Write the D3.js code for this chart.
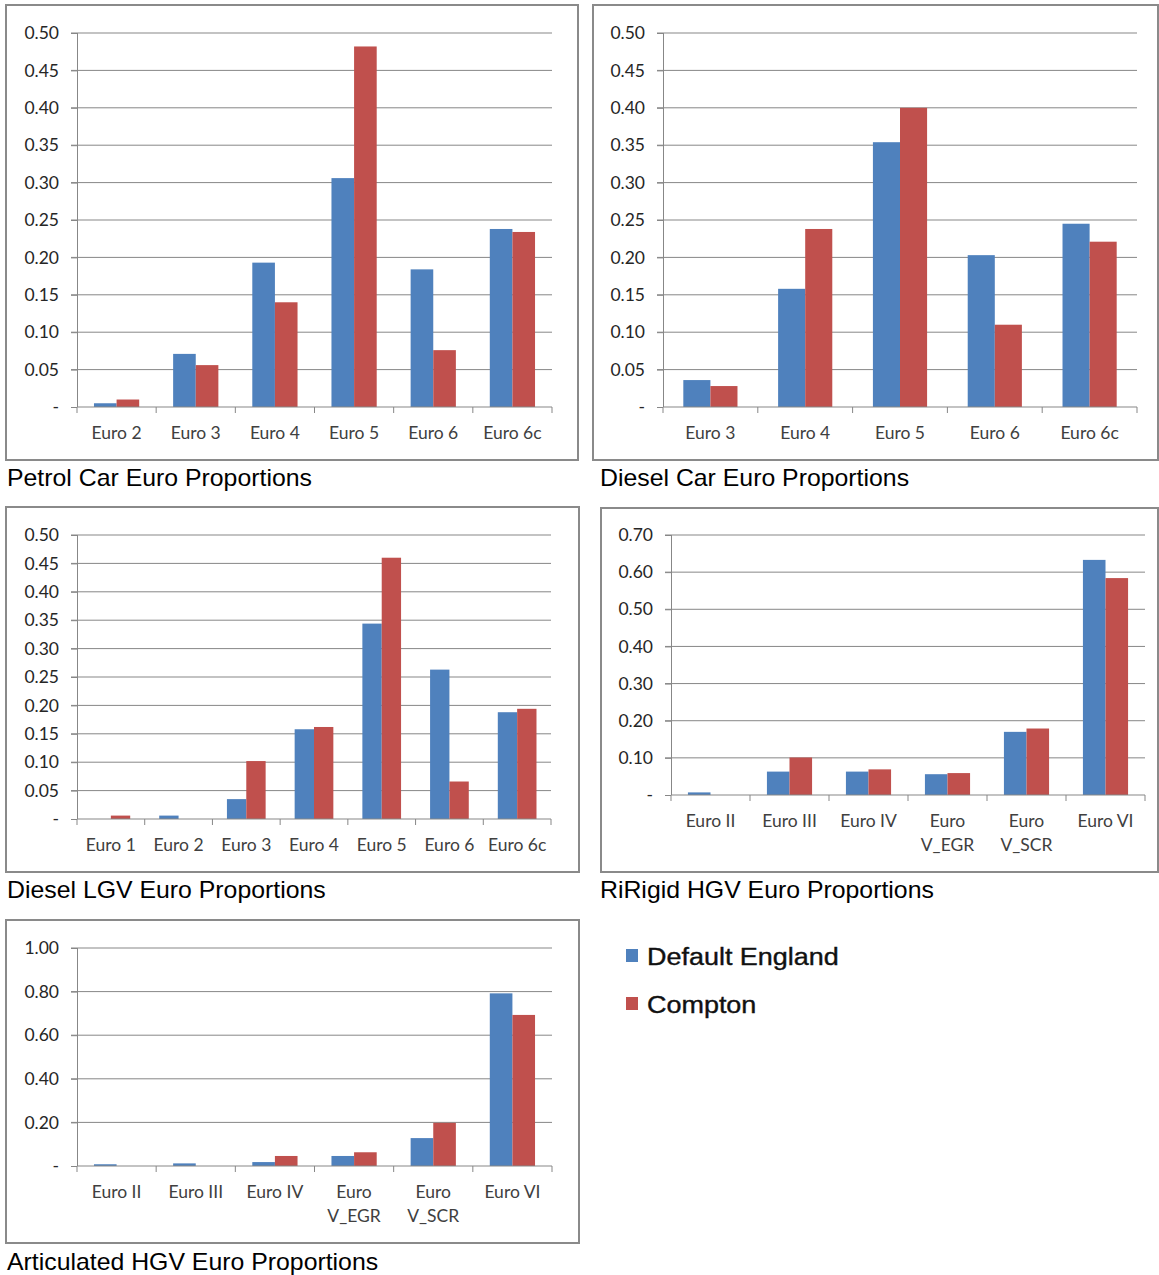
<!DOCTYPE html>
<html>
<head>
<meta charset="utf-8">
<script src="https://cdn.jsdelivr.net/npm/d3@7"></script>
<style>
  body { margin: 0; background: #fff; }
  svg { display: block; }
</style>
</head>
<body>
<div id="chart"></div>
<script>
// series names
var seriesNames = ["Default England", "Compton"];
var seriesColors = ["#4F81BD", "#C0504D"];

// Petrol car
var petrolCats = ["Euro 2", "Euro 3", "Euro 4", "Euro 5", "Euro 6", "Euro 6c"];
var petrolDefault = [0.005, 0.071, 0.193, 0.306, 0.184, 0.238];
var petrolCompton = [0.010, 0.056, 0.140, 0.482, 0.076, 0.234];
var petrolTicks = [0, 0.05, 0.10, 0.15, 0.20, 0.25, 0.30, 0.35, 0.40, 0.45, 0.50];

// Diesel car
var dieselCats = ["Euro 3", "Euro 4", "Euro 5", "Euro 6", "Euro 6c"];
var dieselDefault = [0.036, 0.158, 0.354, 0.203, 0.245];
var dieselCompton = [0.028, 0.238, 0.400, 0.110, 0.221];
var dieselTicks = [0, 0.05, 0.10, 0.15, 0.20, 0.25, 0.30, 0.35, 0.40, 0.45, 0.50];

// Diesel LGV
var lgvCats = ["Euro 1", "Euro 2", "Euro 3", "Euro 4", "Euro 5", "Euro 6", "Euro 6c"];
var lgvDefault = [0, 0.006, 0.035, 0.158, 0.344, 0.263, 0.188];
var lgvCompton = [0.006, 0, 0.102, 0.162, 0.460, 0.066, 0.194];
var lgvTicks = [0, 0.05, 0.10, 0.15, 0.20, 0.25, 0.30, 0.35, 0.40, 0.45, 0.50];

// Rigid HGV
var rigidCats = ["Euro II", "Euro III", "Euro IV", "Euro\nV_EGR", "Euro\nV_SCR", "Euro VI"];
var rigidDefault = [0.007, 0.063, 0.063, 0.056, 0.170, 0.633];
var rigidCompton = [0, 0.101, 0.069, 0.059, 0.179, 0.584];
var rigidTicks = [0, 0.10, 0.20, 0.30, 0.40, 0.50, 0.60, 0.70];

// Articulated HGV
var articCats = ["Euro II", "Euro III", "Euro IV", "Euro\nV_EGR", "Euro\nV_SCR", "Euro VI"];
var articDefault = [0.008, 0.012, 0.018, 0.046, 0.128, 0.792];
var articCompton = [0, 0, 0.046, 0.063, 0.198, 0.693];
var articTicks = [0, 0.20, 0.40, 0.60, 0.80, 1.00];

var svg = d3.select("#chart").append("svg")
    .attr("width", 1159)
    .attr("height", 1275);

var panels = [
  {title: "Petrol Car Euro Proportions", cats: petrolCats, vals: [petrolDefault, petrolCompton], ticks: petrolTicks,
   frame: [6, 5, 572, 455], plot: [77, 33, 552, 407], titleXY: [7, 486]},
  {title: "Diesel Car Euro Proportions", cats: dieselCats, vals: [dieselDefault, dieselCompton], ticks: dieselTicks,
   frame: [593, 5, 565, 455], plot: [663, 33, 1137, 407], titleXY: [600, 486]},
  {title: "Diesel LGV Euro Proportions", cats: lgvCats, vals: [lgvDefault, lgvCompton], ticks: lgvTicks,
   frame: [6, 507, 573, 365], plot: [77, 535, 551, 819], titleXY: [7, 898]},
  {title: "RiRigid HGV Euro Proportions", cats: rigidCats, vals: [rigidDefault, rigidCompton], ticks: rigidTicks,
   frame: [601, 508, 557, 364], plot: [671, 535, 1145, 795], titleXY: [600, 898]},
  {title: "Articulated HGV Euro Proportions", cats: articCats, vals: [articDefault, articCompton], ticks: articTicks,
   frame: [6, 920, 573, 323], plot: [77, 948, 552, 1166], titleXY: [7, 1270]}
];

var fmt = d3.format(".2f");
var gridColor = "#878787";
var labelFont = "Lato, 'Open Sans', sans-serif";

panels.forEach(function(p) {
  var g = svg.append("g");

  // outer frame
  g.append("rect")
    .attr("x", p.frame[0]).attr("y", p.frame[1])
    .attr("width", p.frame[2]).attr("height", p.frame[3])
    .attr("fill", "none")
    .attr("stroke", "#8a8a8a")
    .attr("stroke-width", 2);

  var left = p.plot[0], top = p.plot[1], right = p.plot[2], bottom = p.plot[3];

  var y = d3.scaleLinear()
    .domain([0, d3.max(p.ticks)])
    .range([bottom, top]);

  var x = d3.scaleBand()
    .domain(p.cats)
    .range([left, right])
    .padding(0);

  // excel style: gap width 150%
  var xs = d3.scaleBand()
    .domain(seriesNames)
    .range([0, x.bandwidth()])
    .paddingInner(0)
    .paddingOuter(0.75);

  // gridlines
  g.selectAll("line.grid")
    .data(p.ticks.filter(function(t) { return t > 0; }))
    .enter().append("line")
    .attr("class", "grid")
    .attr("x1", left - 6).attr("x2", right)
    .attr("y1", function(d) { return y(d); })
    .attr("y2", function(d) { return y(d); })
    .attr("stroke", gridColor)
    .attr("stroke-width", 1);

  // bars
  seriesNames.forEach(function(s, si) {
    var rows = p.cats.map(function(c, i) { return {cat: c, v: p.vals[si][i]}; });
    g.selectAll("rect.s" + si)
      .data(rows)
      .enter().append("rect")
      .attr("class", "s" + si)
      .attr("x", function(d) { return x(d.cat) + xs(s); })
      .attr("width", xs.bandwidth())
      .attr("y", function(d) { return y(d.v); })
      .attr("height", function(d) { return bottom - y(d.v); })
      .attr("fill", seriesColors[si]);
  });

  // y axis
  var yAxis = d3.axisLeft(y)
    .tickValues(p.ticks)
    .tickSize(6)
    .tickPadding(12)
    .tickFormat(function(d) { return d === 0 ? "-" : fmt(d); });
  var ya = g.append("g")
    .attr("transform", "translate(" + left + ",0)")
    .call(yAxis);
  ya.select(".domain").attr("stroke", gridColor).attr("d", "M0.5," + top + "V" + bottom);
  ya.selectAll(".tick line").attr("stroke", gridColor);
  ya.selectAll(".tick text")
    .attr("fill", "#262626")
    .style("font-family", labelFont)
    .style("font-size", "17.5px");

  // x axis line + category boundary ticks
  g.append("line")
    .attr("x1", left).attr("x2", right)
    .attr("y1", bottom).attr("y2", bottom)
    .attr("stroke", gridColor);
  var bounds = p.cats.map(function(c) { return x(c); }).concat([right]);
  g.selectAll("line.xt")
    .data(bounds)
    .enter().append("line")
    .attr("class", "xt")
    .attr("x1", function(d) { return d; }).attr("x2", function(d) { return d; })
    .attr("y1", bottom).attr("y2", bottom + 6)
    .attr("stroke", gridColor);

  // x labels
  var xl = g.selectAll("text.xl")
    .data(p.cats)
    .enter().append("text")
    .attr("class", "xl")
    .attr("x", function(d) { return x(d) + x.bandwidth() / 2; })
    .attr("y", bottom + 32)
    .attr("text-anchor", "middle")
    .attr("fill", "#404040")
    .style("font-family", labelFont)
    .style("font-size", "17.5px");
  xl.each(function(d) {
    var t = d3.select(this);
    var cx = x(d) + x.bandwidth() / 2;
    d.split("\n").forEach(function(line, li) {
      t.append("tspan")
        .attr("x", cx)
        .attr("dy", li === 0 ? 0 : 24)
        .text(line);
    });
  });

  // title below frame (slightly wide lettering in the original)
  g.append("text")
    .attr("transform", "translate(" + p.titleXY[0] + "," + p.titleXY[1] + ") scale(1.08,1)")
    .attr("fill", "#000")
    .style("font-family", "'Liberation Sans', Arial, sans-serif")
    .style("font-size", "23px")
    .text(p.title);
});

// legend
var legend = svg.append("g");
var legendY = [949, 997];
seriesNames.forEach(function(s, i) {
  legend.append("rect")
    .attr("x", 626).attr("y", legendY[i])
    .attr("width", 12).attr("height", 13)
    .attr("fill", seriesColors[i]);
  legend.append("text")
    .attr("transform", "translate(647," + (legendY[i] + 16) + ") scale(1.1,1)")
    .attr("fill", "#111")
    .attr("stroke", "#111")
    .attr("stroke-width", 0.4)
    .style("font-family", "'Liberation Sans', Arial, sans-serif")
    .style("font-size", "24.5px")
    .text(s);
});
</script>
</body>
</html>
